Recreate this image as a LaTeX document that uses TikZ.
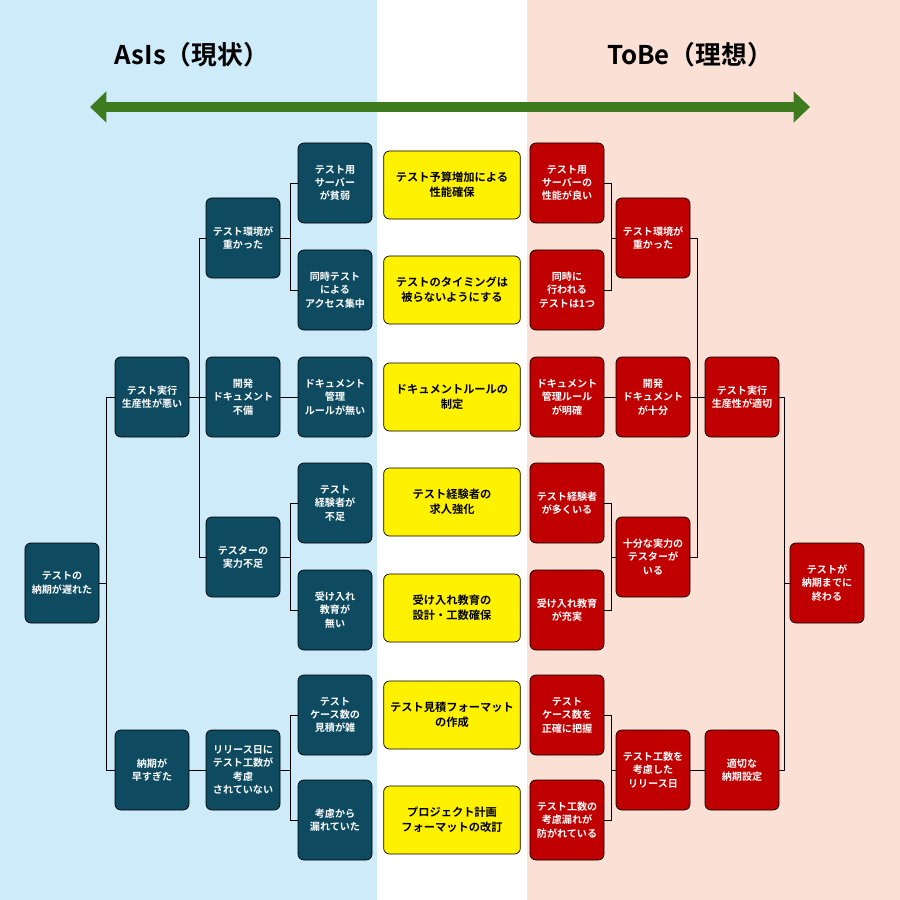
\documentclass[tikz,border=0pt]{standalone}
\usepackage{fontspec}
\setmainfont{Noto Sans CJK JP}[BoldFont={Noto Sans CJK JP Bold}]
\usetikzlibrary{arrows.meta}
\definecolor{bgL}{HTML}{CDEBF8}
\definecolor{bgR}{HTML}{FBE0D5}
\definecolor{teal}{HTML}{0E4A60}
\definecolor{red2}{HTML}{C00000}
\definecolor{grn}{HTML}{3E7A1E}
\tikzset{
 base/.style={draw=black, line width=0.6pt, rounded corners=5pt, align=center, font=\fontsize{8.6}{11.5}\selectfont\bfseries, inner sep=1pt},
 asis/.style={base, fill=teal, text=white, minimum width=2.22cm, minimum height=2.4cm},
 tobe/.style={base, fill=red2, text=white, minimum width=2.22cm, minimum height=2.4cm},
 mid/.style={base, fill=yellow, text=black, minimum width=4.1cm, minimum height=2.04cm, font=\fontsize{9.6}{13}\selectfont\bfseries},
 ln/.style={draw=black, line width=0.8pt},
}
\begin{document}
\begin{tikzpicture}[x=0.03cm,y=-0.03cm]
\useasboundingbox (0,0) rectangle (900,900);
\fill[bgL] (0,0) rectangle (377,900);
\fill[white] (377,0) rectangle (527,900);
\fill[bgR] (527,0) rectangle (900,900);
\node[font=\fontsize{22}{26}\selectfont\bfseries] (t1) at (192,55) {AsIs（現状）};
\node[font=\fontsize{22}{26}\selectfont\bfseries] (t2) at (690,55) {ToBe（理想）};
\coordinate (al) at (90,107); \coordinate (ar) at (810,107);
\draw[grn, line width=9pt, {Triangle[length=14pt,width=26pt]}-{Triangle[length=14pt,width=26pt]}] (al) -- (ar);
% left
\node[asis] (A) at (62,583) {テストの\\納期が遅れた};
\node[asis] (B1) at (152,397) {テスト実行\\生産性が悪い};
\node[asis] (B2) at (152,770) {納期が\\早すぎた};
\node[asis] (C1) at (243,238) {テスト環境が\\重かった};
\node[asis] (C2) at (243,397) {開発\\ドキュメント\\不備};
\node[asis] (C3) at (243,557) {テスターの\\実力不足};
\node[asis] (C4) at (243,770) {リリース日に\\テスト工数が\\考慮\\されていない};
\node[asis] (D1) at (335,183) {テスト用\\サーバー\\が貧弱};
\node[asis] (D2) at (335,290) {同時テスト\\による\\アクセス集中};
\node[asis] (D3) at (335,397) {ドキュメント\\管理\\ルールが無い};
\node[asis] (D4) at (335,503) {テスト\\経験者が\\不足};
\node[asis] (D5) at (335,610) {受け入れ\\教育が\\無い};
\node[asis] (D6) at (335,715) {テスト\\ケース数の\\見積が雑};
\node[asis] (D7) at (335,820) {考慮から\\漏れていた};
% middle
\node[mid] (M1) at (452,185) {テスト予算増加による\\性能確保};
\node[mid] (M2) at (452,290) {テストのタイミングは\\被らないようにする};
\node[mid] (M3) at (452,397) {ドキュメントルールの\\制定};
\node[mid] (M4) at (452,502) {テスト経験者の\\求人強化};
\node[mid] (M5) at (452,608) {受け入れ教育の\\設計・工数確保};
\node[mid] (M6) at (452,715) {テスト見積フォーマット\\の作成};
\node[mid] (M7) at (452,820) {プロジェクト計画\\フォーマットの改訂};
% right
\node[tobe] (E1) at (567,183) {テスト用\\サーバーの\\性能が良い};
\node[tobe] (E2) at (567,290) {同時に\\行われる\\テストは1つ};
\node[tobe] (E3) at (567,397) {ドキュメント\\管理ルール\\が明確};
\node[tobe] (E4) at (567,503) {テスト経験者\\が多くいる};
\node[tobe] (E5) at (567,610) {受け入れ教育\\が充実};
\node[tobe] (E6) at (567,715) {テスト\\ケース数を\\正確に把握};
\node[tobe] (E7) at (567,820) {テスト工数の\\考慮漏れが\\防がれている};
\node[tobe] (F1) at (653,238) {テスト環境が\\重かった};
\node[tobe] (F2) at (653,397) {開発\\ドキュメント\\が十分};
\node[tobe] (F3) at (653,557) {十分な実力の\\テスターが\\いる};
\node[tobe] (F4) at (653,770) {テスト工数を\\考慮した\\リリース日};
\node[tobe] (G1) at (742,397) {テスト実行\\生産性が適切};
\node[tobe] (G2) at (742,770) {適切な\\納期設定};
\node[tobe] (H) at (827,583) {テストが\\納期までに\\終わる};
% left connectors
\draw[ln] (A.east) -- ++(7,0) |- (B1.west);
\draw[ln] (A.east) -- ++(7,0) |- (B2.west);
\draw[ln] (B1.east) -- ++(10,0) |- (C1.west);
\draw[ln] (B1.east) -- (C2.west);
\draw[ln] (B1.east) -- ++(10,0) |- (C3.west);
\draw[ln] (B2.east) -- (C4.west);
\draw[ln] (C1.east) -- ++(10,0) |- (D1.west);
\draw[ln] (C1.east) -- ++(10,0) |- (D2.west);
\draw[ln] (C2.east) -- (D3.west);
\draw[ln] (C3.east) -- ++(10,0) |- (D4.west);
\draw[ln] (C3.east) -- ++(10,0) |- (D5.west);
\draw[ln] (C4.east) -- ++(10,0) |- (D6.west);
\draw[ln] (C4.east) -- ++(10,0) |- (D7.west);
% right connectors
\draw[ln] (E1.east) -| ++(7,55) -- (F1.west);
\draw[ln] (E2.east) -| ++(7,-52) -- (F1.west);
\draw[ln] (E3.east) -- (F2.west);
\draw[ln] (E4.east) -| ++(7,54) -- (F3.west);
\draw[ln] (E5.east) -| ++(7,-53) -- (F3.west);
\draw[ln] (E6.east) -| ++(7,55) -- (F4.west);
\draw[ln] (E7.east) -| ++(7,-50) -- (F4.west);
\draw[ln] (F1.east) -| ++(7,159) -- (G1.west);
\draw[ln] (F2.east) -- (G1.west);
\draw[ln] (F3.east) -| ++(7,-160) -- (G1.west);
\draw[ln] (F4.east) -- (G2.west);
\draw[ln] (G1.east) -| ++(5,186) -- (H.west);
\draw[ln] (G2.east) -| ++(5,-187) -- (H.west);
\end{tikzpicture}
\end{document}
